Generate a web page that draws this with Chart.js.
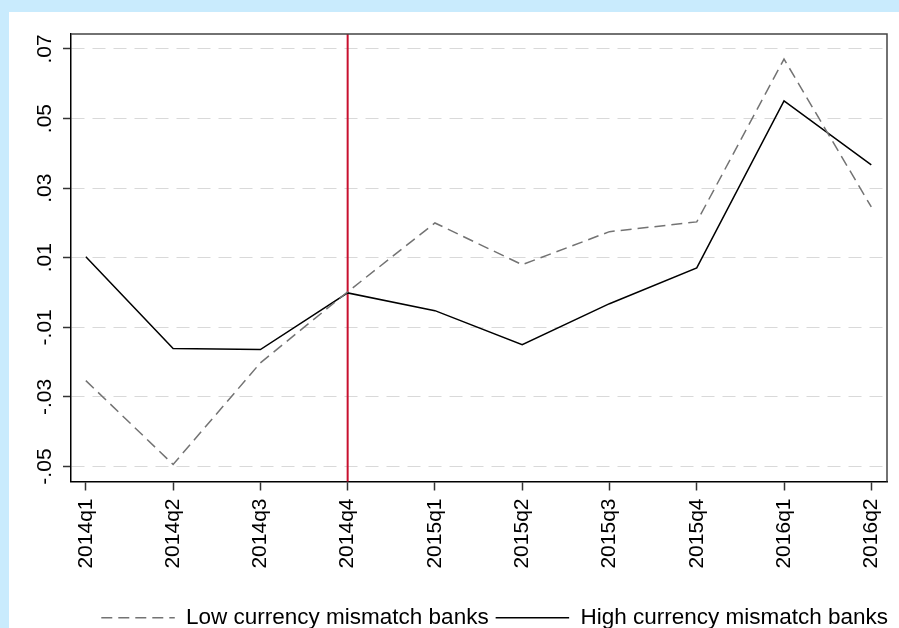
<!DOCTYPE html>
<html>
<head>
<meta charset="utf-8">
<script src="https://cdn.jsdelivr.net/npm/chart.js@4"></script>
<style>
  html, body { margin: 0; padding: 0; }
  body { width: 899px; height: 628px; background: #c9ebfd; overflow: hidden; position: relative; }
  #panel { position: absolute; left: 9px; top: 12px; width: 890px; height: 616px; background: #fff; overflow: hidden; }
  #wrap { width: 890px; height: 627px; }
</style>
</head>
<body>
<div id="panel"><div id="wrap"><canvas id="myChart"></canvas></div></div>
<script>
const quarters = ["2014q1", "2014q2", "2014q3", "2014q4", "2015q1", "2015q2", "2015q3", "2015q4", "2016q1", "2016q2"];
const lowMismatch = [-0.0253, -0.0494, -0.0202, 0.0002, 0.0200, 0.0080, 0.0175, 0.0203, 0.0671, 0.0246];
const highMismatch = [0.0103, -0.0161, -0.0164, -0.0001, -0.0052, -0.0150, -0.0032, 0.0071, 0.0551, 0.0367];
const yTickValues = [-0.05, -0.03, -0.01, 0.01, 0.03, 0.05, 0.07];
const yTickLabels = ["-.05", "-.03", "-.01", ".01", ".03", ".05", ".07"];
const eventQuarter = "2014q4";

Chart.defaults.font.family = "'Liberation Sans', Arial, sans-serif";
Chart.defaults.font.size = 21;
Chart.defaults.color = "#000";

const toPoints = (arr) => arr.map((v, i) => ({ x: i, y: v }));

// red vertical marker + frame on top/right
const marker = {
  id: "marker",
  beforeDatasetsDraw(chart) {
    const { ctx, chartArea, scales } = chart;
    const x = scales.x.getPixelForValue(quarters.indexOf(eventQuarter));
    ctx.save();
    ctx.strokeStyle = "#c8102e";
    ctx.lineWidth = 2;
    ctx.beginPath();
    ctx.moveTo(x, chartArea.top);
    ctx.lineTo(x, chartArea.bottom);
    ctx.stroke();
    ctx.restore();
  },
  afterDraw(chart) {
    const { ctx, chartArea } = chart;
    ctx.save();
    ctx.strokeStyle = "#444";
    ctx.lineWidth = 1.5;
    ctx.beginPath();
    ctx.moveTo(chartArea.left, chartArea.top);
    ctx.lineTo(chartArea.right, chartArea.top);
    ctx.lineTo(chartArea.right, chartArea.bottom);
    ctx.stroke();
    ctx.restore();
  }
};

const data = {
  datasets: [
    {
      label: "Low currency mismatch banks",
      data: toPoints(lowMismatch),
      borderColor: "#737373",
      backgroundColor: "transparent",
      borderWidth: 1.5,
      borderDash: [11, 6],
      pointRadius: 0,
      tension: 0,
    },
    {
      label: "High currency mismatch banks",
      data: toPoints(highMismatch),
      borderColor: "#000",
      backgroundColor: "transparent",
      borderWidth: 1.5,
      pointRadius: 0,
      tension: 0,
    },
  ],
};

const config = {
  type: "line",
  data: data,
  plugins: [marker],
  options: {
    responsive: true,
    maintainAspectRatio: false,
    animation: false,
    layout: { padding: { top: 22, right: 4, left: 0, bottom: 0 } },
    plugins: {
      tooltip: { enabled: false },
      legend: {
        position: "bottom",
        align: "end",
        labels: {
          boxWidth: 73.5,
          boxHeight: 0,
          padding: 7,
          font: { size: 22.5 },
          color: "#000",
        },
      },
    },
    scales: {
      x: {
        type: "linear",
        min: -0.17,
        max: 9.18,
        afterBuildTicks: (s) => { s.ticks = quarters.map((q, i) => ({ value: i })); },
        afterFit: (s) => { s.height = 118; s.paddingLeft = 0; s.paddingRight = 0; },
        ticks: {
          callback: (v) => quarters[v],
          minRotation: 90,
          maxRotation: 90,
          padding: 8,
          color: "#000",
          autoSkip: false,
        },
        grid: { drawOnChartArea: false, drawTicks: true, tickLength: 9, tickColor: "#333", tickWidth: 1.5 },
        border: { color: "#000", width: 1.5 },
      },
      y: {
        min: -0.0543,
        max: 0.0743,
        afterBuildTicks: (s) => { s.ticks = yTickValues.map((v) => ({ value: v })); },
        afterFit: (s) => { s.width = 62; s.paddingTop = 0; s.paddingBottom = 0; },
        ticks: {
          callback: (v, i) => yTickLabels[i],
          minRotation: 90,
          maxRotation: 90,
          crossAlign: "center",
          padding: 0,
          color: "#000",
        },
        grid: { color: "#d9d9d9", lineWidth: 1, tickLength: 8, tickColor: "#333", tickWidth: 1.5, tickBorderDash: [] },
        border: { color: "#000", width: 1.5, dash: [13, 8] },
      },
      y2: {
        position: "right",
        display: true,
        afterFit: (s) => { s.width = 8; },
        ticks: { display: false },
        grid: { display: false },
        border: { display: false },
      },
    },
  },
};

var myChart = new Chart(document.getElementById("myChart"), config);
</script>
</body>
</html>
